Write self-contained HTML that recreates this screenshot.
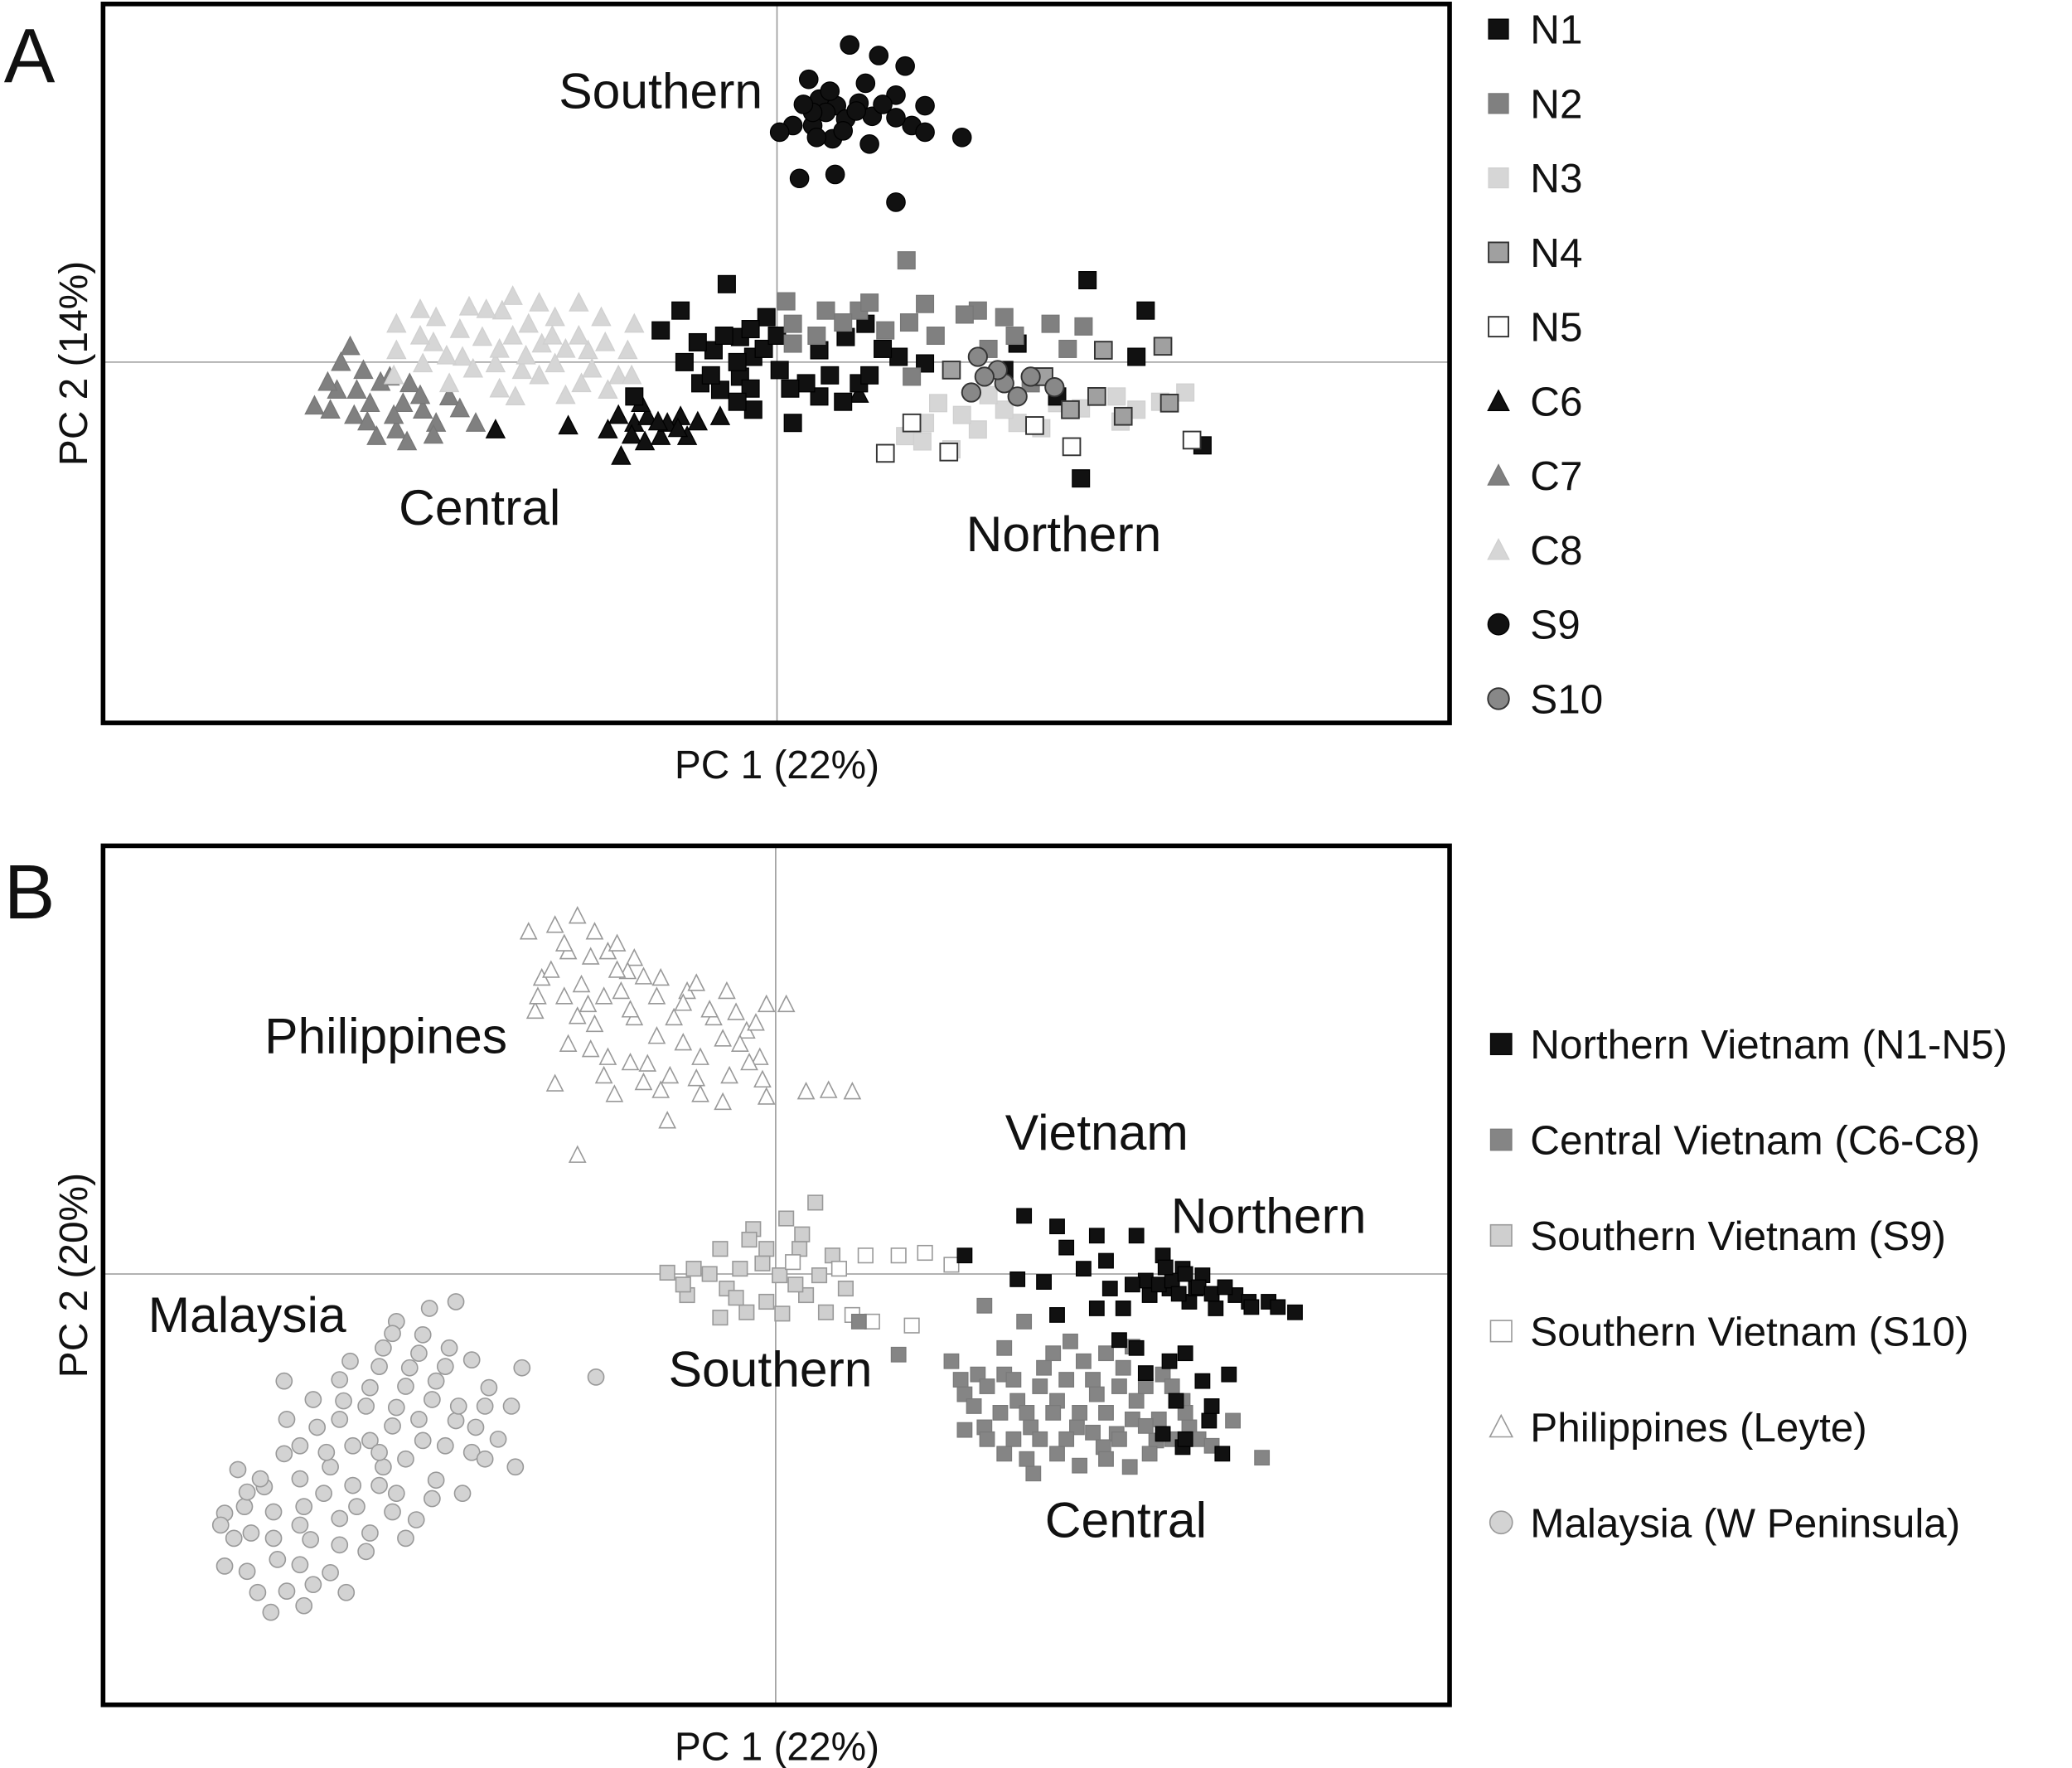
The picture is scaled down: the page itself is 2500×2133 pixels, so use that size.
<!DOCTYPE html>
<html><head><meta charset="utf-8"><style>
html,body{margin:0;padding:0;background:#fff}
svg{display:block}
text{font-family:"Liberation Sans","DejaVu Sans",sans-serif;fill:#111}
</style></head><body>
<svg id="fig" width="2500" height="2133" viewBox="0 0 1568 1337.8" xmlns="http://www.w3.org/2000/svg">
<g id="panelA"></g>
<g id="panelB"></g>
<g>
<text x="3" y="62" font-size="58">A</text>
<text x="500" y="82" font-size="38" text-anchor="middle">Southern</text>
<text x="363" y="397" font-size="38" text-anchor="middle">Central</text>
<text x="805" y="417" font-size="38" text-anchor="middle">Northern</text>
<text x="588" y="589" font-size="30" text-anchor="middle">PC 1 (22%)</text>
<text transform="translate(66,275) rotate(-90)" font-size="30" text-anchor="middle">PC 2 (14%)</text>
<text x="3" y="695" font-size="58">B</text>
<text x="292" y="797" font-size="38" text-anchor="middle">Philippines</text>
<text x="830" y="870" font-size="38" text-anchor="middle">Vietnam</text>
<text x="960" y="933" font-size="38" text-anchor="middle">Northern</text>
<text x="187" y="1008" font-size="38" text-anchor="middle">Malaysia</text>
<text x="583" y="1049" font-size="38" text-anchor="middle">Southern</text>
<text x="852" y="1163" font-size="38" text-anchor="middle">Central</text>
<text x="588" y="1332" font-size="30" text-anchor="middle">PC 1 (22%)</text>
<text transform="translate(66,965) rotate(-90)" font-size="30" text-anchor="middle">PC 2 (20%)</text>
</g>
<g id="legendA"></g>
<g id="legendB"></g>
</svg>
<script>
// ---- Panel A data (PC1, PC2) ----
const aC7=[[-35,-3.3],[-32.3,1.2],[-33.3,-2.1],[-30.8,-3.1],[-28.8,-5.1],[-26.8,-3.6],[-29.3,-1.1],[-31.3,-0.6],[-24.8,-2.6],[-22.8,-4.6],[-27.8,-1.6],[-33.8,-3.6],[-30.3,-5.6],[-25.8,-4.6],[-31.8,-2.1],[-28.3,-3.1],[-34,-1.5],[-32,-4],[-30,-1.5],[-29,-4],[-27,-2.5],[-26,-5.5],[-33,0],[-31,-4.5],[-28,-6],[-24,-3.5]];
const aC8=[[-28.8,2.9],[-25.8,3.4],[-23.3,4.2],[-20.8,3.9],[-18.8,2.9],[-16.8,3.4],[-13.3,3.4],[-10.8,2.9],[-23.8,0.4],[-21.3,-0.1],[-19.3,-0.6],[-16.8,-0.1],[-14.8,-1.6],[-12.8,-2.1],[-24.8,-1.6],[-28.8,0.9],[-17.8,1.4],[-22.3,1.9],[-14.3,0.9],[-11.3,0.9],[-19.8,-2.6],[-26.8,-0.1],[-27,4],[-26,1.5],[-24,2.5],[-22,4],[-21,1],[-20,2],[-19,0.5],[-18,-1],[-17,2],[-16,1],[-15,2],[-14,-0.5],[-13,1.5],[-12,-1],[-25,0.5],[-23,-0.5],[-21,-2],[-18,4.5],[-15,4.5],[-20,5],[-27,2],[-29,-1],[-11,-1],[-16,-2.5]];
const aC6=[[-11.8,-7.1],[-10.8,-4.6],[-8.8,-5.6],[-6.8,-5.6],[-9.8,-4.1],[-12.8,-5.1],[-7.3,-4.1],[-15.8,-4.8],[-4.3,-4.1],[-21.3,-5.1],[6.2,-2.4],[-10.3,-3.1],[-8.3,-4.6],[-11,-5.5],[-9,-4.5],[-7.5,-5],[-12,-4],[-10,-6],[-6,-4.5]];
const aN1=[[-3.8,5.9],[-7.3,3.9],[-0.8,3.4],[-2.8,1.9],[-4.8,0.9],[-1.8,0.4],[-8.8,2.4],[-5.8,-1.6],[-2.8,-1.1],[1.2,-4.6],[3.2,-2.6],[6.7,2.9],[9.2,0.4],[6.2,-1.6],[11.2,-0.1],[3.2,0.9],[18.2,1.4],[21.2,-2.6],[23.5,6.2],[27.9,3.9],[32.2,-6.3],[23,-8.8],[0.2,-0.6],[-10.8,-2.6],[5.2,1.9],[-1.8,-3.6],[17.2,-0.6],[27.2,0.4],[2.2,-1.6],[-4.3,-2.1],[-4,2],[-2,2.5],[-3,0],[-1,1],[-6,1.5],[-5,-1],[-7,0],[-2,-2],[0,2],[1,-2],[4,-1],[7,-1],[8,1],[5,-3],[-3,-3]];
const aN2=[[0.7,4.6],[3.7,3.9],[9.8,7.7],[11.2,4.4],[15.2,3.9],[17.2,3.4],[20.7,2.9],[23.2,2.7],[1.2,1.4],[10.2,-1.1],[13.2,-0.6],[1.2,2.9],[6.2,3.9],[19.2,-1.6],[14.2,3.6],[8.2,2.4],[5,3],[7,4.5],[12,2],[16,1],[18,2],[22,1],[3,2],[10,3]];
const aN3=[[9.7,-5.6],[13.2,-6.6],[15.2,-5.1],[18.2,-4.6],[21.2,-3.1],[24.2,-2.6],[27.2,-3.6],[30.9,-2.3],[12.2,-3.1],[17.2,-3.6],[25.7,-2.6],[11.2,-4.6],[14,-4],[16,-2.5],[20,-5],[23,-3.5],[26,-4.5],[29,-3],[11,-6]];
const aN4=[[24.7,0.9],[29.2,1.2],[24.2,-2.6],[26.2,-4.1],[29.7,-3.1],[22.2,-3.6],[20.2,-1.1],[13.2,-0.6]];
const aN5=[[8.2,-6.9],[13,-6.8],[19.5,-4.8],[22.3,-6.4],[31.4,-5.9],[10.2,-4.6]];
const aS10=[[15.2,0.4],[17.2,-1.6],[19.2,-1.1],[21,-1.9],[14.7,-2.3],[16.7,-0.6],[15.7,-1.1],[18.2,-2.6]];
const aS9=[[5.5,24],[7.7,23.2],[2.4,21.4],[6.7,21.1],[9.7,22.4],[9,20.2],[3.2,19.9],[4.5,19.4],[11.2,19.4],[1.2,17.9],[2.7,17.9],[5.2,18.4],[7.2,18.6],[10.2,17.9],[14,17],[0.2,17.4],[4.2,16.9],[11.2,17.4],[1.7,13.9],[4.4,14.2],[9,12.1],[3.7,18.9],[6.2,19.6],[2.7,18.9],[3,17],[5,17.5],[6,19],[8,19.5],[2,19.5],[4,20.5],[9,18.5],[7,16.5]];
const legendALabels=["N1","N2","N3","N4","N5","C6","C7","C8","S9","S10"];
// ---- Panel B data ----
const bPhil=[[-15,27.1],[-16.7,26.4],[-18.7,25.9],[-13.7,25.9],[-15.7,24.4],[-12.7,24.4],[-10.7,23.9],[-8.7,22.4],[-17.7,22.4],[-14.7,21.9],[-11.7,21.4],[-6.7,21.4],[-3.7,21.4],[-0.7,20.4],[0.8,20.4],[-18.2,19.9],[-13.7,18.9],[-10.7,19.4],[-7.7,19.4],[-4.7,19.4],[-2.2,18.4],[-15.7,17.4],[-12.7,16.4],[-9.7,15.9],[-5.7,16.4],[-1.2,16.4],[-16.7,14.4],[-12.2,13.6],[-8.7,13.9],[-5.7,13.6],[-0.7,13.4],[2.3,13.8],[4,13.9],[5.8,13.8],[-8.2,11.6],[-15,9],[-2.7,17.4],[-14.2,20.4],[-11.2,22.9],[-16,25],[-14,24],[-12,23],[-10,22.5],[-9,21],[-7,20.5],[-5,20],[-3,19.8],[-1.5,19],[-17,23],[-16,21],[-13,21],[-11,20],[-9,18],[-7,17.5],[-4,17.8],[-2,16],[-14,17],[-11,16],[-8,15],[-3.5,15],[-13,15],[-10,14.5],[-6,14.8],[-1,14.7],[-18,21],[-12,25],[-6,22],[-15,19.5],[-4,13]];
const bMal=[[-24.2,-2.1],[-26.2,-2.6],[-28.7,-3.6],[-26.7,-4.6],[-29.7,-5.6],[-24.7,-5.6],[-27.7,-7.1],[-32.2,-6.6],[-37.2,-8.1],[-30.7,-8.6],[-25.7,-8.1],[-21.7,-8.6],[-19.2,-7.1],[-32.7,-9.6],[-28.7,-10.1],[-24.2,-11.1],[-34.7,-11.6],[-30.7,-12.6],[-26.7,-12.6],[-22.7,-11.6],[-19.7,-14.6],[-40.7,-14.8],[-37.2,-13.6],[-33.7,-14.6],[-29.7,-14.6],[-25.7,-15.6],[-38.7,-16.1],[-41.7,-18.1],[-35.7,-17.6],[-31.7,-17.6],[-27.2,-18.6],[-23.7,-16.6],[-39.7,-19.6],[-35.2,-20.1],[-30.7,-19.6],[-41.7,-22.1],[-37.7,-21.6],[-33.7,-22.6],[-39.2,-24.1],[-38.2,-25.6],[-35.7,-25.1],[-32.5,-24.1],[-13.6,-7.8],[-40.2,-17.6],[-34.2,-16.6],[-28.7,-16.6],[-29,-4.5],[-27,-6],[-25,-7],[-23,-6.5],[-30,-7],[-28,-8.5],[-26,-9.5],[-24,-10],[-22,-10],[-31,-10],[-33,-11],[-29,-11.5],[-27,-11],[-25,-13],[-23,-13.5],[-21,-12.5],[-36,-13],[-34,-13.5],[-32,-13],[-30,-13.5],[-28,-14],[-39,-15.5],[-36,-15.5],[-32,-16],[-30,-16],[-26,-17],[-38,-18],[-36,-19],[-33,-18.5],[-29,-18],[-41,-20],[-38,-20],[-33,-20.5],[-40,-22.5],[-36,-22],[-35,-23.5],[-31,-21],[-37,-24],[-42,-19],[-40,-16.5],[-37,-11],[-33,-8],[-35,-9.5],[-20,-10],[-22,-14],[-28,-20]];
const bS9=[[3,5.4],[0.8,4.2],[-1.7,3.4],[-4.2,1.9],[-0.7,1.9],[1.8,1.9],[4.3,1.4],[-8.2,0.1],[-6.2,0.4],[-2.7,0.4],[0.3,-0.1],[3.3,-0.1],[-6.7,-1.6],[-3.7,-1.1],[-0.7,-2.1],[2.3,-1.6],[-4.2,-3.3],[-2.2,-2.9],[3.8,-2.9],[5.3,-1.1],[-5,0],[-1,0.8],[1.5,-0.8],[-3,-1.8],[0.5,-3],[2,3],[-2,2.6],[-7,-0.8]];
const bS10=[[6.8,1.4],[9.3,1.4],[11.3,1.6],[13.3,0.7],[5.8,-3.1],[7.3,-3.6],[10.3,-3.9],[1.3,0.9],[4.8,0.4]];
const bNorth=[[18.8,4.4],[21.3,3.6],[24.3,2.9],[27.3,2.9],[29.3,1.4],[30.8,0.4],[32.3,-0.1],[34.8,-1.6],[37.3,-2.1],[39.3,-2.9],[18.3,-0.4],[20.3,-0.6],[23.3,0.4],[25.3,-1.1],[28.3,-1.6],[31.3,-2.1],[33.3,-2.6],[35.8,-2.1],[21.3,-3.1],[26.3,-2.6],[29.8,-1.1],[31.8,-1.1],[14.3,1.4],[27.3,-5.6],[29.8,-6.6],[32.3,-8.1],[34.3,-7.6],[30.3,-9.6],[32.8,-11.1],[29.3,-12.1],[30.8,-13.1],[33.8,-13.6],[24.3,-2.6],[28,-0.5],[29,-0.8],[30,-0.5],[31,0],[32,-1],[33,-1.5],[34,-1],[29.5,0.5],[30.5,-1.5],[27,-0.8],[36,-2.5],[38,-2.5],[22,2],[25,1],[26,-5],[31,-6],[28,-7.5],[33,-10],[31,-12.5]];
const bCent=[[15.8,-2.4],[18.8,-3.6],[13.3,-6.6],[15.3,-7.6],[17.3,-7.6],[20.3,-7.1],[23.3,-6.6],[26.3,-7.1],[29.3,-7.6],[14.3,-9.1],[18.3,-9.6],[21.3,-9.6],[24.3,-9.1],[27.3,-9.6],[30.8,-9.6],[15.8,-11.6],[19.3,-11.6],[22.8,-11.6],[25.8,-12.1],[28.8,-12.6],[14.3,-11.8],[17.3,-13.6],[21.3,-13.6],[24.8,-13.1],[28.3,-13.6],[19.5,-15.1],[36.8,-13.9],[34.6,-11.1],[9.3,-6.1],[6.3,-3.6],[17.3,-5.6],[22.3,-5.1],[31.3,-11.6],[26.8,-14.6],[14,-8],[16,-8.5],[18,-8],[20,-8.5],[22,-8],[24,-8],[26,-8.5],[28,-8.5],[30,-8.5],[15,-10],[17,-10.5],[19,-10.5],[21,-10.5],[23,-10.5],[25,-10.5],[27,-11],[29,-11],[31,-10.5],[16,-12.5],[18,-12.5],[20,-12.5],[22,-12.5],[24,-12],[26,-12.5],[28,-11.5],[30,-12.5],[19,-14],[23,-14.5],[25,-14],[21,-6],[25,-6],[27,-5.5],[32,-12.5],[33,-13]];
const legendBLabels=["Northern Vietnam (N1-N5)","Central Vietnam (C6-C8)","Southern Vietnam (S9)","Southern Vietnam (S10)","Philippines (Leyte)","Malaysia (W Peninsula)"];

const NS="http://www.w3.org/2000/svg";
function mk(tag,attrs,parent){const e=document.createElementNS(NS,tag);for(const k in attrs)e.setAttribute(k,attrs[k]);parent.appendChild(e);return e;}
function lin(d0,d1,r0,r1){return v=>r0+(v-d0)/(d1-d0)*(r1-r0);}
function marker(parent,shape,cx,cy,s,fill,stroke,sw){
  let e;
  if(shape==="sq"){e=mk("rect",{x:cx-s/2,y:cy-s/2,width:s,height:s,fill:fill,stroke:stroke,"stroke-width":sw},parent);}
  else if(shape==="ci"){e=mk("circle",{cx:cx,cy:cy,r:s/2,fill:fill,stroke:stroke,"stroke-width":sw},parent);}
  else{const h=s*0.9;e=mk("polygon",{points:`${cx},${cy-h/2-1} ${cx-s/2},${cy+h/2} ${cx+s/2},${cy+h/2}`,fill:fill,stroke:stroke,"stroke-width":sw},parent);}
  return e;
}
function panel(g,box,xd,yd,series,name){
  const xs=lin(xd[0],xd[1],box.x0,box.x1), ys=lin(yd[0],yd[1],box.y1,box.y0);
  const h=mk("line",{x1:box.x0,x2:box.x1,y1:ys(0),y2:ys(0),stroke:"#999","stroke-width":1},g);
  
  
  const v=mk("line",{x1:xs(0),x2:xs(0),y1:box.y0,y2:box.y1,stroke:"#999","stroke-width":1},g);
  
  
  series.forEach(sr=>{
    const sg=mk("g",{},g);
    
    
    sr.data.forEach(p=>{
      const m=marker(sg,sr.shape,xs(p[0]),ys(p[1]),sr.size,sr.fill,sr.stroke,sr.sw);
      
      
    });
  });
  const f=mk("rect",{x:box.x0,y:box.y0,width:box.x1-box.x0,height:box.y1-box.y0,fill:"none",stroke:"#000","stroke-width":3.5},g);
  
  
}
const sA={N1:{shape:"sq",fill:"#111",stroke:"#000",sw:0.8,size:13},N2:{shape:"sq",fill:"#808080",stroke:"#777",sw:0.8,size:13},N3:{shape:"sq",fill:"#d6d6d6",stroke:"#d0d0d0",sw:0.8,size:13},N4:{shape:"sq",fill:"#a0a0a0",stroke:"#333",sw:1.2,size:13},N5:{shape:"sq",fill:"#fff",stroke:"#333",sw:1.2,size:13},C6:{shape:"tr",fill:"#111",stroke:"#000",sw:0.8,size:14},C7:{shape:"tr",fill:"#808080",stroke:"#777",sw:0.8,size:14},C8:{shape:"tr",fill:"#d6d6d6",stroke:"#d0d0d0",sw:0.8,size:14},S9:{shape:"ci",fill:"#111",stroke:"#000",sw:0.8,size:14},S10:{shape:"ci",fill:"#888",stroke:"#333",sw:1.2,size:14}};
panel(document.getElementById("panelA"),{x0:78,x1:1097,y0:3,y1:547},[-51,50.9],[-27.3,27.1],[
 {name:"series-c7",data:aC7,...sA.C7},{name:"series-c8",data:aC8,...sA.C8},{name:"series-c6",data:aC6,...sA.C6},
 {name:"series-n3",data:aN3,...sA.N3},{name:"series-n1",data:aN1,...sA.N1},{name:"series-n2",data:aN2,...sA.N2},
 {name:"series-n4",data:aN4,...sA.N4},{name:"series-n5",data:aN5,...sA.N5},{name:"series-s10",data:aS10,...sA.S10},{name:"series-s9",data:aS9,...sA.S9}],"panel-a");
const sB=[{shape:"sq",fill:"#111",stroke:"#000",sw:0.8,size:11},{shape:"sq",fill:"#858585",stroke:"#7a7a7a",sw:0.8,size:11},{shape:"sq",fill:"#cfcfcf",stroke:"#999",sw:1,size:11},{shape:"sq",fill:"#fff",stroke:"#999",sw:1,size:11},{shape:"tr",fill:"#fff",stroke:"#999",sw:1,size:12},{shape:"ci",fill:"#d3d3d3",stroke:"#999",sw:1,size:12}];
panel(document.getElementById("panelB"),{x0:78,x1:1097,y0:640,y1:1290},[-50.9,51],[-32.6,32.4],[
 {name:"series-philippines",data:bPhil,...sB[4]},{name:"series-malaysia",data:bMal,...sB[5]},
 {name:"series-southern-s9",data:bS9,...sB[2]},{name:"series-southern-s10",data:bS10,...sB[3]},
 {name:"series-central",data:bCent,...sB[1]},{name:"series-northern",data:bNorth,...sB[0]}],"panel-b");
// legends
const lgA=document.getElementById("legendA");
legendALabels.forEach((l,i)=>{
  const y=22+i*56.3;const st=sA[l];
  const it=mk("g",{},lgA);
  
  
  marker(it,st.shape,1134,y,st.size+2,st.fill,st.stroke,st.sw);
  const t=mk("text",{x:1158,y:y+11,"font-size":31},it);t.textContent=l;
});
const lgB=document.getElementById("legendB");
legendBLabels.forEach((l,i)=>{
  const y=790+i*72.4;const st=sB[i];
  const it=mk("g",{},lgB);
  
  
  marker(it,st.shape,1136,y,st.size+5,st.fill,st.stroke,st.sw);
  const t=mk("text",{x:1158,y:y+11,"font-size":31},it);t.textContent=l;
});
</script>
</body></html>
